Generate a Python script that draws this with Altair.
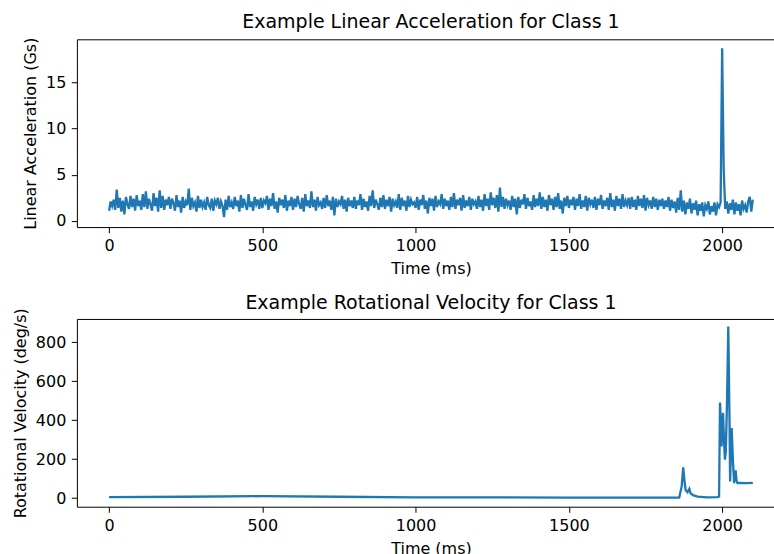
import altair as alt
import pandas as pd

FONT = "DejaVu Sans"
LINE_COLOR = "#1f77b4"

# ---- Linear acceleration (Gs), sampled every 5 ms from t = 0 ----
acc_start = 0
acc_step = 5
acc_values = [
    1.1, 2.1, 1.6, 2.3, 1.2, 3.4, 1.4, 2.5, 1.0, 2.2, 0.7, 2.6, 1.8, 1.3, 2.7, 1.5, 2.4, 1.1, 2.8, 1.6,
    2.2, 1.2, 2.9, 1.5, 3.2, 1.3, 2.4, 1.8, 1.1, 3.0, 1.6, 2.5, 1.0, 3.3, 1.4, 2.7, 1.2, 2.3, 1.7, 2.6,
    1.3, 2.4, 1.9, 1.1, 2.8, 1.5, 2.2, 0.9, 2.6, 1.4, 2.1, 1.7, 3.5, 1.2, 2.5, 1.6, 2.0, 1.0, 2.7, 1.4,
    2.3, 1.5, 2.0, 1.2, 2.6, 1.7, 1.4, 2.4, 1.1, 2.2, 1.8, 2.5, 1.3, 2.1, 1.6, 0.4, 2.3, 1.2, 2.7, 1.5,
    2.0, 1.3, 2.6, 1.6, 2.2, 1.0, 2.8, 1.4, 2.4, 1.7, 1.2, 2.9, 1.5, 2.1, 1.1, 2.6, 1.8, 2.3, 1.3, 2.5,
    1.4, 2.2, 1.9, 2.7, 1.2, 2.4, 1.6, 3.0, 1.3, 2.1, 0.9, 2.5, 1.7, 2.3, 1.4, 2.8, 1.1, 2.2, 1.6, 2.6,
    1.2, 2.4, 1.5, 2.7, 1.8, 1.3, 2.5, 1.0, 2.9, 1.6, 2.2, 1.4, 3.2, 1.5, 2.3, 1.1, 2.6, 1.7, 2.0, 1.3,
    2.5, 1.4, 2.8, 1.6, 2.2, 1.2, 2.6, 0.6, 2.4, 1.5, 2.1, 1.8, 2.7, 1.3, 2.3, 1.0, 2.5, 1.6, 2.2, 1.4,
    2.6, 1.3, 2.2, 1.7, 2.9, 1.2, 2.4, 1.5, 2.1, 1.1, 2.7, 1.6, 3.3, 1.4, 2.3, 1.8, 1.2, 2.5, 1.5, 2.8,
    1.3, 2.3, 1.6, 2.6, 1.0, 2.4, 1.7, 2.1, 1.4, 2.9, 1.2, 2.5, 1.6, 2.2, 1.1, 2.7, 1.5, 2.3, 1.8, 2.0,
    1.4, 2.6, 1.2, 2.3, 1.7, 2.8, 1.3, 2.2, 0.8, 2.5, 1.6, 2.4, 1.1, 2.7, 1.5, 2.1, 1.8, 2.9, 1.3, 2.4,
    1.6, 2.2, 1.2, 2.6, 1.5, 3.0, 1.3, 2.3, 1.7, 2.5, 1.1, 2.8, 1.4, 2.2, 1.6, 2.6, 1.2, 2.4, 1.8, 2.1,
    1.3, 2.7, 1.5, 2.3, 1.1, 2.9, 1.6, 2.4, 1.2, 3.1, 1.7, 2.5, 1.4, 2.8, 1.0, 3.6, 1.5, 2.6, 1.3, 2.4,
    1.7, 2.2, 1.2, 2.7, 1.5, 2.4, 0.7, 2.6, 1.4, 2.3, 1.8, 2.9, 1.3, 2.5, 1.6, 2.1, 1.2, 2.8, 1.5, 2.4,
    1.6, 3.1, 1.3, 2.6, 1.5, 2.3, 1.1, 2.8, 1.7, 2.4, 1.2, 2.6, 1.5, 3.0, 1.3, 2.2, 0.8, 2.5, 1.6, 2.7,
    1.4, 2.3, 1.7, 2.6, 1.2, 2.4, 1.6, 2.9, 1.3, 2.2, 1.5, 2.7, 1.1, 2.5, 1.8, 2.3, 1.4, 2.6, 1.2, 2.4,
    1.7, 2.8, 1.3, 2.2, 1.6, 2.5, 1.2, 3.0, 1.5, 2.3, 1.1, 2.7, 1.6, 2.4, 1.3, 2.9, 1.5, 2.2, 1.7, 2.5,
    1.3, 2.6, 1.5, 2.3, 1.2, 2.7, 1.6, 2.4, 1.4, 2.8, 1.1, 2.5, 1.7, 2.2, 1.3, 2.6, 1.5, 2.4, 1.2, 2.3,
    1.6, 2.4, 1.3, 2.2, 1.5, 2.6, 1.1, 2.3, 1.4, 2.1, 0.9, 2.5, 1.2, 3.3, 1.0, 2.2, 0.7, 2.0, 1.3, 2.4,
    0.8, 1.9, 1.2, 2.2, 0.6, 1.8, 1.1, 2.0, 0.5, 1.7, 1.3, 2.1, 0.7, 1.6, 1.0, 2.0, 0.6, 1.8, 1.5, 2.0,
    18.7, 5.6, 1.3, 2.1, 0.8, 1.9, 1.2, 2.3, 0.7, 2.0, 1.1, 1.8, 0.6, 2.2, 1.3, 1.7, 0.9, 2.1, 2.6, 1.0,
    2.3,
]
acc_time = [acc_start + i * acc_step for i in range(len(acc_values))]

# ---- Rotational velocity (deg/s) ----
rot_time = [0, 250, 500, 750, 1000, 1500, 1860, 1868, 1873, 1877, 1881, 1887, 1893, 1897,
            1905, 1920, 1950, 1985, 1990, 1993, 1996, 1998, 2003, 2006, 2009, 2012, 2016,
            2020, 2024, 2026, 2031, 2035, 2039, 2044, 2047, 2050, 2060, 2080, 2100]
rot_values = [5, 7, 10, 7, 4, 3, 3, 60, 158, 90, 40, 30, 48, 25,
              15, 8, 4, 5, 8, 490, 380, 265, 437, 300, 197, 240, 500,
              880, 400, 85, 360, 200, 77, 142, 90, 77, 78, 77, 78]

x_ticks = [0, 500, 1000, 1500, 2000]
acc_ticks = [0, 5, 10, 15]
rot_ticks = [0, 200, 400, 600, 800]

acc_df = pd.DataFrame({"t": acc_time, "v": acc_values})
rot_df = pd.DataFrame({"t": rot_time, "v": rot_values})


def panel(df, title, ytitle, ydomain, yticks, title_offset):
    return (
        alt.Chart(
            df,
            title=alt.TitleParams(title, fontSize=19, font=FONT, fontWeight="normal",
                                  color="black", offset=title_offset, frame="group"),
        )
        .mark_line(color=LINE_COLOR, strokeWidth=2.3)
        .encode(
            x=alt.X("t:Q", scale=alt.Scale(domain=[-105, 2205], nice=False, zero=False),
                    axis=alt.Axis(values=x_ticks, title="Time (ms)", format="d")),
            y=alt.Y("v:Q", scale=alt.Scale(domain=ydomain, nice=False, zero=False),
                    axis=alt.Axis(values=yticks, title=ytitle, format="d")),
        )
        .properties(width=709, height=188)
    )


top = panel(acc_df, "Example Linear Acceleration for Class 1", "Linear Acceleration (Gs)",
            [-0.67, 19.67], acc_ticks, 5)
bottom = panel(rot_df, "Example Rotational Velocity for Class 1", "Rotational Velocity (deg/s)",
               [-44, 919], rot_ticks, -5)

chart = (
    alt.vconcat(top, bottom, spacing=15)
    .properties(padding={"left": 11, "top": 12, "right": -12, "bottom": -3})
    .configure(background="white")
    .configure_view(stroke="black", strokeWidth=1)
    .configure_axis(
        domain=False, grid=False, ticks=True, tickColor="black", tickSize=5.6, tickWidth=1,
        labelFont=FONT, labelFontSize=16, labelColor="black",
        titleFont=FONT, titleFontSize=16, titleFontWeight="normal", titleColor="black",
    )
    .configure_axisX(labelPadding=5, titlePadding=7)
    .configure_axisY(labelPadding=5.5, titlePadding=7)
)

chart.save("out.html", embed_options={"renderer": "svg", "actions": False})
